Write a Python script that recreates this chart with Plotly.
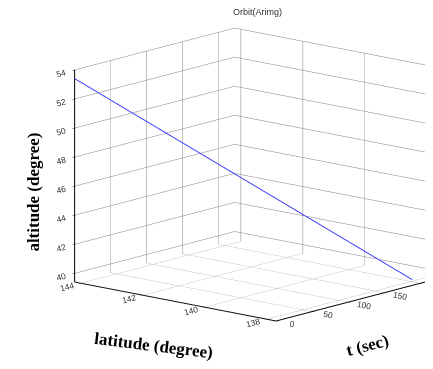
import plotly.graph_objects as go

# data
t_sec = [0, 202]
latitude = [144.2, 138.0]
altitude = [53.4, 39.5]

lat_ticks = [138, 140, 142, 144]
t_ticks = [0, 50, 100, 150, 200]
alt_ticks = [40, 42, 44, 46, 48, 50, 52, 54]

fig = go.Figure()
fig.add_trace(go.Scatter3d(
    x=t_sec, y=latitude, z=altitude, mode="lines",
    line=dict(color="#4040ff", width=2), showlegend=False, hoverinfo="skip"))

axis_common = dict(showbackground=False, gridcolor="#808080", gridwidth=1,
                   showline=True, linecolor="black", linewidth=2,
                   ticks="outside", tickcolor="black", ticklen=3,
                   zeroline=False, showspikes=False, title=dict(text=""),
                   tickfont=dict(family="Arial", size=10, color="#333333"))

cx, cy, cz = -0.109, 0.127, -0.10
fig.update_layout(
    width=433, height=369,
    margin=dict(l=0, r=0, t=0, b=0),
    paper_bgcolor="white",
    scene=dict(
        domain=dict(x=[0.0, 1.0], y=[0.0, 1.0]),
        xaxis=dict(axis_common, range=[0, 222], tickvals=t_ticks),
        yaxis=dict(axis_common, range=[137.7, 144.2], tickvals=lat_ticks),
        zaxis=dict(axis_common, range=[39.4, 54.0], tickvals=alt_ticks),
        aspectmode="manual", aspectratio=dict(x=1.33, y=1.44, z=1.18),
        camera=dict(eye=dict(x=-1.081 + cx, y=-0.930 + cy, z=0.329 + cz),
                    center=dict(x=cx, y=cy, z=cz),
                    projection=dict(type="orthographic")),
    ),
    annotations=[
        dict(text="Orbit(Arimg)", x=0.577, y=0.99, xref="paper", yref="paper",
             xanchor="center", yanchor="middle",
             showarrow=False, font=dict(family="Arial", size=9, color="#333333")),
        dict(text="<b>altitude (degree)</b>", x=0.058, y=0.5, xref="paper", yref="paper",
             xanchor="center", yanchor="middle",
             textangle=-90, showarrow=False,
             font=dict(family="Liberation Serif", size=17, color="black")),
        dict(text="<b>latitude (degree)</b>", x=0.335, y=0.085, xref="paper", yref="paper",
             xanchor="center", yanchor="middle",
             textangle=7, showarrow=False,
             font=dict(family="Liberation Serif", size=17, color="black")),
        dict(text="<b>t (sec)</b>", x=0.83, y=0.085, xref="paper", yref="paper",
             xanchor="center", yanchor="middle",
             textangle=-15, showarrow=False,
             font=dict(family="Liberation Serif", size=17, color="black")),
    ],
)

fig.write_html("out.html")
